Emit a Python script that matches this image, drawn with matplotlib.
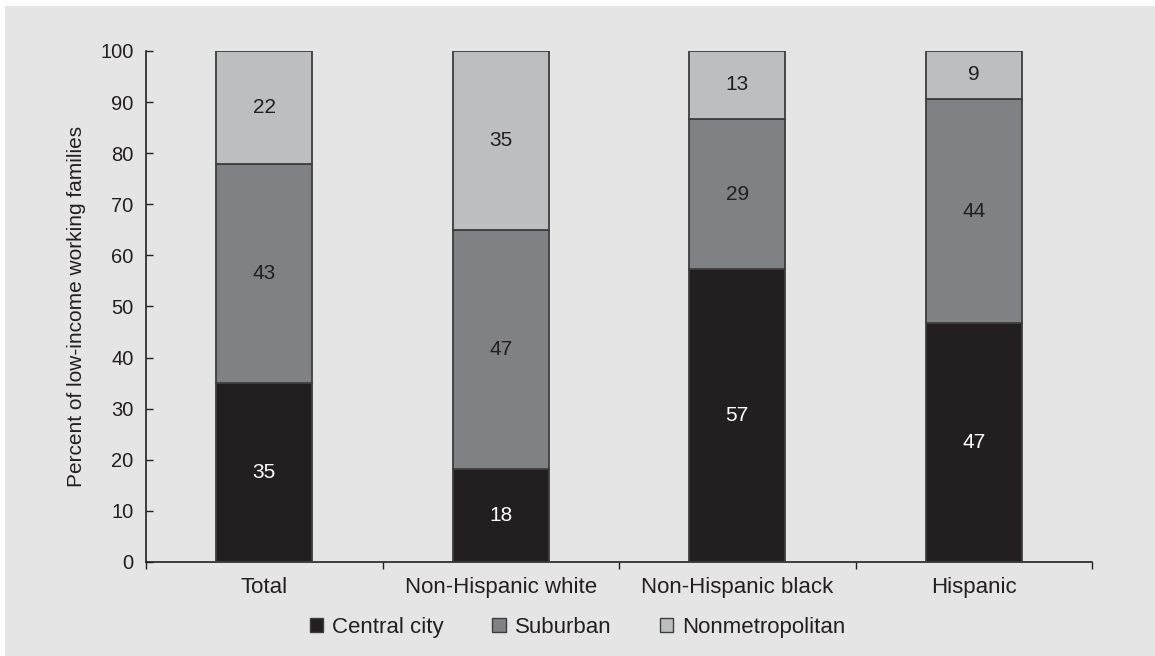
import numpy as np
import matplotlib
matplotlib.use("Agg")
import matplotlib.pyplot as plt
from matplotlib.patches import Patch, Rectangle

plt.rcParams["font.family"] = ["Liberation Sans", "DejaVu Sans"]

# Share of low-income working families by location, per group (percent)
groups        = ["Total", "Non-Hispanic white", "Non-Hispanic black", "Hispanic"]
central_city  = [35.0, 18.2, 57.3, 46.7]
suburban      = [42.8, 46.8, 29.4, 43.9]
nonmetro      = [22.2, 35.0, 13.3, 9.4]
series_names  = ["Central city", "Suburban", "Nonmetropolitan"]
y_ticks       = [0, 10, 20, 30, 40, 50, 60, 70, 80, 90, 100]

colors      = ["#231f20", "#808184", "#bcbec0"]
text_colors = ["white", "#231f20", "#231f20"]
edge        = "#3d3d3d"
panel_bg    = "#e5e5e5"
ink         = "#231f20"

fig = plt.figure(figsize=(11.55, 6.56), dpi=100)
fig.patch.set_facecolor("white")
fig.patches.append(Rectangle((5 / 1155, 0), 1 - 5 / 1155, 1 - 6 / 656,
                             transform=fig.transFigure, facecolor=panel_bg,
                             edgecolor="none", zorder=-10))

ax = fig.add_axes([0.1264, 0.1433, 0.8191, 0.7790])
ax.set_facecolor("none")

x = np.arange(len(groups))
bottom = np.zeros(len(groups))
for vals, color, tcolor in zip([central_city, suburban, nonmetro], colors, text_colors):
    vals = np.array(vals)
    bars = ax.bar(x, vals, width=0.405, bottom=bottom, color=color,
                  edgecolor=edge, linewidth=1.3, zorder=3)
    for rect, v, b in zip(bars, vals, bottom):
        ax.text(rect.get_x() + rect.get_width() / 2, b + v / 2, f"{v:.0f}",
                ha="center", va="center", fontsize=15, color=tcolor, zorder=4)
    bottom += vals

ax.set_xlim(-0.5, len(groups) - 0.5)
ax.set_ylim(0, 100)
ax.set_yticks(y_ticks)
ax.set_xticks(x)
ax.set_xticklabels(groups, fontsize=16, color=ink)
ax.set_xticks(np.arange(len(groups) + 1) - 0.5, minor=True)
ax.tick_params(axis="x", which="major", length=0, pad=11)
ax.tick_params(axis="x", which="minor", length=5, width=1, color=ink, direction="out")
ax.tick_params(axis="y", length=5, width=1, color=ink, direction="in",
               labelsize=14.5, labelcolor=ink, pad=9)
ax.set_ylabel("Percent of low-income working families", fontsize=15,
              color=ink, labelpad=10)

for side in ["top", "right"]:
    ax.spines[side].set_visible(False)
for side in ["left", "bottom"]:
    ax.spines[side].set_color(ink)
    ax.spines[side].set_linewidth(1.2)

handles = [Patch(facecolor=c, edgecolor=edge, linewidth=1) for c in colors]
fig.legend(handles, series_names, loc="center", bbox_to_anchor=(0.5, 0.044),
           ncol=3, frameon=False, fontsize=16, handlelength=0.6,
           handleheight=0.6, handletextpad=0.4, columnspacing=2.2,
           labelcolor=ink)

fig.savefig("out.png", dpi=100, facecolor=fig.get_facecolor())
